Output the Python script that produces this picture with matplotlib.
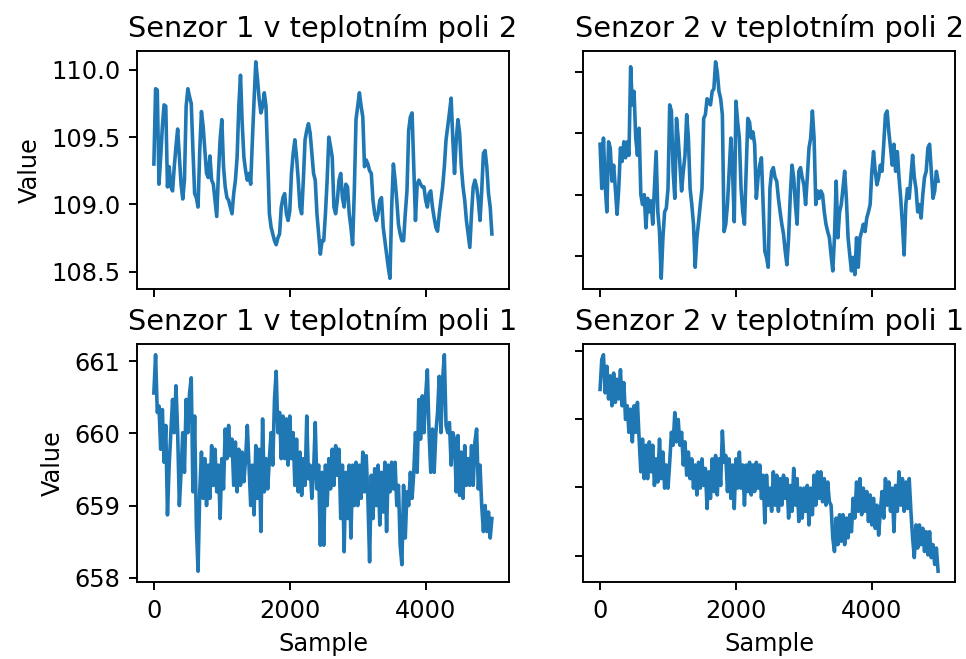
import matplotlib
matplotlib.use('Agg')
import matplotlib.pyplot as plt
import numpy as np

# one reading every 25 samples
step = 25

s1_pole2 = [109.30, 109.86, 109.85, 109.15, 109.35, 109.58, 109.74, 109.73, 109.13, 109.28,
            109.13, 109.10, 109.28, 109.43, 109.56, 109.35, 109.15, 109.04, 109.18, 109.73,
            109.86, 109.80, 109.75, 109.40, 109.08, 109.05, 108.98, 109.40, 109.69, 109.58,
            109.40, 109.23, 109.20, 109.36, 109.18, 109.15, 109.03, 108.91, 109.23, 109.48,
            109.63, 109.28, 109.13, 109.05, 109.03, 108.98, 108.93, 109.08, 109.18, 109.35,
            109.73, 109.96, 109.60, 109.35, 109.25, 109.18, 109.23, 109.15, 109.48, 109.78,
            110.06, 109.93, 109.78, 109.68, 109.73, 109.83, 109.73, 109.35, 108.93, 108.83,
            108.78, 108.73, 108.70, 108.75, 108.78, 108.98, 109.05, 109.08, 108.93, 108.88,
            108.95, 109.23, 109.38, 109.48, 109.35, 109.18, 108.98, 108.93, 109.18, 109.48,
            109.55, 109.60, 109.53, 109.38, 109.23, 109.18, 108.93, 108.78, 108.63, 108.73,
            108.73, 108.93, 109.18, 109.50, 109.43, 109.35, 108.98, 108.93, 109.03, 109.18,
            109.23, 109.05, 108.98, 109.15, 109.13, 108.93, 108.83, 108.70, 109.10, 109.63,
            109.73, 109.83, 109.73, 109.65, 109.28, 109.33, 109.30, 109.25, 109.23, 109.03,
            108.93, 108.88, 108.93, 109.03, 109.05, 108.83, 108.73, 108.63, 108.53, 108.45,
            108.98, 109.30, 109.18, 109.03, 108.85, 108.78, 108.73, 108.73, 108.93, 109.10,
            109.55, 109.65, 109.68, 109.28, 108.88, 109.15, 109.18, 109.15, 109.13, 109.13,
            109.03, 108.98, 109.08, 109.10, 108.98, 108.90, 108.83, 108.80, 108.93, 109.03,
            109.13, 109.28, 109.48, 109.58, 109.68, 109.79, 109.48, 109.23, 109.48, 109.63,
            109.53, 109.28, 109.13, 109.03, 108.88, 108.78, 108.68, 108.93, 109.13, 109.18,
            109.13, 109.03, 108.88, 109.10, 109.38, 109.40, 109.28, 109.08, 108.98, 108.78]

s2_pole2 = [109.41, 109.05, 109.46, 109.08, 108.86, 109.43, 109.38, 109.11, 109.24, 109.05,
            108.84, 109.05, 109.38, 109.27, 109.43, 109.30, 109.43, 109.32, 110.04, 109.73,
            109.84, 109.46, 109.32, 109.54, 109.00, 108.92, 109.00, 108.73, 108.97, 108.86,
            108.95, 108.76, 109.05, 109.35, 108.86, 108.70, 108.32, 108.65, 108.86, 108.89,
            109.05, 109.73, 109.68, 109.19, 108.97, 109.62, 109.46, 109.24, 109.03, 109.19,
            109.32, 109.65, 109.46, 109.05, 108.92, 108.76, 108.41, 108.65, 108.78, 108.92,
            109.05, 109.62, 109.65, 109.78, 109.76, 109.73, 109.84, 109.86, 110.08, 110.00,
            109.84, 109.78, 109.65, 108.70, 108.76, 108.92, 109.19, 109.46, 109.19, 108.78,
            109.76, 109.59, 109.46, 109.05, 108.86, 108.76, 109.19, 109.62, 109.59, 109.46,
            109.51, 109.41, 108.97, 109.14, 109.24, 109.30, 108.92, 108.54, 108.49, 108.41,
            109.05, 109.19, 109.22, 109.14, 109.11, 108.97, 108.86, 108.76, 108.68, 108.54,
            108.43, 108.65, 109.00, 109.24, 109.14, 108.92, 108.76, 109.19, 109.22, 109.14,
            109.08, 108.92, 109.14, 109.38, 109.46, 109.68, 109.46, 108.92, 109.03, 108.97,
            109.03, 109.00, 108.86, 108.76, 108.70, 108.65, 108.51, 108.38, 108.65, 109.11,
            108.65, 108.86, 108.92, 109.05, 109.19, 108.97, 108.65, 108.51, 108.38, 108.49,
            108.35, 108.65, 108.41, 108.65, 108.70, 108.76, 108.70, 108.81, 108.86, 108.92,
            109.19, 109.35, 109.19, 109.08, 109.14, 109.24, 109.19, 109.41, 109.65, 109.68,
            109.51, 109.38, 109.24, 109.41, 109.19, 109.35, 109.14, 108.97, 108.76, 108.51,
            108.92, 109.05, 108.97, 109.14, 109.32, 109.14, 109.05, 108.86, 108.92, 108.81,
            109.00, 109.14, 109.19, 109.38, 109.41, 109.19, 108.97, 109.03, 109.19, 109.11]

s1_pole1 = [660.56, 661.09, 660.29, 660.38, 659.78, 660.33, 659.60, 660.11, 658.87, 659.56,
            660.01, 660.47, 660.01, 660.66, 660.01, 659.00, 659.46, 660.01, 659.46, 660.47,
            660.01, 660.56, 660.77, 659.19, 660.24, 658.73, 658.09, 659.19, 659.74, 659.10,
            659.65, 659.00, 659.56, 659.10, 659.83, 659.28, 659.78, 659.19, 659.56, 658.82,
            659.65, 659.23, 660.06, 659.65, 660.11, 659.69, 659.92, 659.28, 659.88, 659.19,
            659.78, 659.28, 659.74, 659.33, 659.65, 660.11, 659.56, 659.00, 659.56, 658.87,
            659.83, 659.10, 659.78, 658.64, 660.20, 659.19, 659.65, 659.23, 659.65, 660.01,
            659.56, 660.47, 660.86, 660.01, 660.29, 659.65, 660.24, 659.65, 660.20, 659.56,
            660.24, 659.65, 660.01, 659.28, 659.92, 659.19, 659.74, 659.14, 659.65, 659.28,
            660.24, 659.37, 659.56, 659.10, 659.46, 660.15, 659.23, 659.56, 658.45, 659.46,
            658.45, 659.56, 659.00, 659.65, 659.23, 659.78, 659.28, 659.83, 659.42, 659.78,
            658.82, 659.56, 658.36, 659.46, 658.82, 659.56, 658.55, 659.56, 659.00, 659.60,
            659.00, 659.56, 659.10, 659.74, 659.19, 659.69, 659.10, 658.22, 659.42, 658.82,
            659.51, 659.00, 659.56, 658.73, 659.46, 658.91, 659.60, 658.64, 659.56, 659.19,
            659.60, 659.23, 659.60, 659.00, 659.28, 658.45, 658.18, 659.28, 658.55, 659.19,
            659.00, 659.46, 659.10, 659.46, 660.01, 659.46, 660.47, 659.92, 660.52, 660.01,
            660.52, 660.88, 660.01, 659.46, 660.06, 659.46, 660.01, 660.29, 660.79, 660.01,
            660.75, 661.09, 660.11, 660.01, 660.15, 659.56, 660.01, 659.92, 659.19, 659.97,
            659.14, 659.74, 659.10, 659.83, 659.28, 659.65, 659.28, 659.83, 659.28, 659.88,
            660.06, 659.23, 659.56, 659.00, 658.64, 659.00, 658.64, 658.91, 658.55, 658.82]

s2_pole1 = [660.44, 660.88, 660.95, 660.39, 660.78, 660.30, 660.64, 660.20, 660.68, 660.25,
            660.59, 660.30, 660.73, 660.20, 660.54, 660.00, 660.20, 659.81, 660.15, 659.67,
            660.20, 659.81, 660.25, 659.71, 659.23, 659.71, 659.13, 659.62, 659.13, 659.67,
            659.23, 659.62, 659.03, 659.42, 659.08, 659.71, 659.13, 659.52, 658.99, 659.33,
            658.99, 659.37, 659.81, 659.62, 660.10, 659.67, 660.00, 659.62, 659.81, 659.33,
            659.67, 659.18, 659.52, 659.13, 659.42, 658.99, 659.33, 658.89, 659.37, 658.99,
            659.42, 659.03, 659.28, 658.69, 659.23, 658.84, 659.42, 658.94, 659.47, 658.89,
            659.42, 659.03, 659.83, 659.37, 659.47, 658.94, 659.42, 658.84, 659.33, 658.69,
            659.42, 658.99, 659.52, 658.99, 659.33, 658.74, 659.33, 658.94, 659.37, 658.89,
            659.33, 658.94, 659.37, 658.99, 659.33, 658.84, 659.18, 658.48, 659.18, 658.74,
            658.99, 658.65, 659.23, 658.74, 659.18, 658.65, 659.13, 658.74, 659.18, 658.84,
            659.13, 658.55, 659.03, 658.65, 659.28, 658.74, 659.13, 658.50, 658.99, 658.55,
            658.99, 658.65, 659.03, 658.45, 658.99, 658.60, 659.18, 658.74, 659.23, 658.84,
            659.23, 658.79, 659.13, 658.74, 659.08, 658.79, 658.74, 658.26, 658.06, 658.55,
            658.16, 658.60, 658.21, 658.60, 658.16, 658.55, 658.26, 658.60, 658.35, 658.84,
            658.55, 659.08, 658.65, 659.13, 658.60, 658.99, 658.65, 658.94, 658.50, 658.89,
            658.45, 658.84, 658.40, 658.74, 658.30, 658.65, 658.94, 658.55, 659.13, 658.74,
            659.08, 658.65, 658.99, 658.35, 659.03, 658.65, 659.23, 658.74, 659.13, 658.65,
            659.08, 658.69, 659.13, 658.65, 658.26, 657.97, 658.45, 658.11, 658.45, 658.16,
            658.40, 658.06, 658.35, 658.01, 658.35, 657.97, 658.16, 657.87, 658.11, 657.77]

titles = ['Senzor 1 v teplotním poli 2', 'Senzor 2 v teplotním poli 2',
          'Senzor 1 v teplotním poli 1', 'Senzor 2 v teplotním poli 1']

dpi = 172.8
fig, axes = plt.subplots(2, 2, figsize=(966 / dpi, 659 / dpi), dpi=dpi)
fig.subplots_adjust(left=0.1418, right=0.9886, top=0.9226, bottom=0.1168,
                    wspace=0.2, hspace=0.23)

for ax, ys, title in zip(axes.flat, [s1_pole2, s2_pole2, s1_pole1, s2_pole1], titles):
    xs = np.arange(len(ys)) * step
    ax.plot(xs, ys, color='#1f77b4', linewidth=1.5)
    ax.set_title(title)
    ax.set_xticks([0, 2000, 4000])

# labels only on the outer axes
for ax in axes[0]:
    ax.tick_params(labelbottom=False)
for ax in axes[:, 1]:
    ax.tick_params(labelleft=False)
for ax in axes[:, 0]:
    ax.set_ylabel('Value')
for ax in axes[1]:
    ax.set_xlabel('Sample')

axes[0, 0].set_yticks([108.5, 109.0, 109.5, 110.0])

plt.savefig('out.png', dpi=dpi)
